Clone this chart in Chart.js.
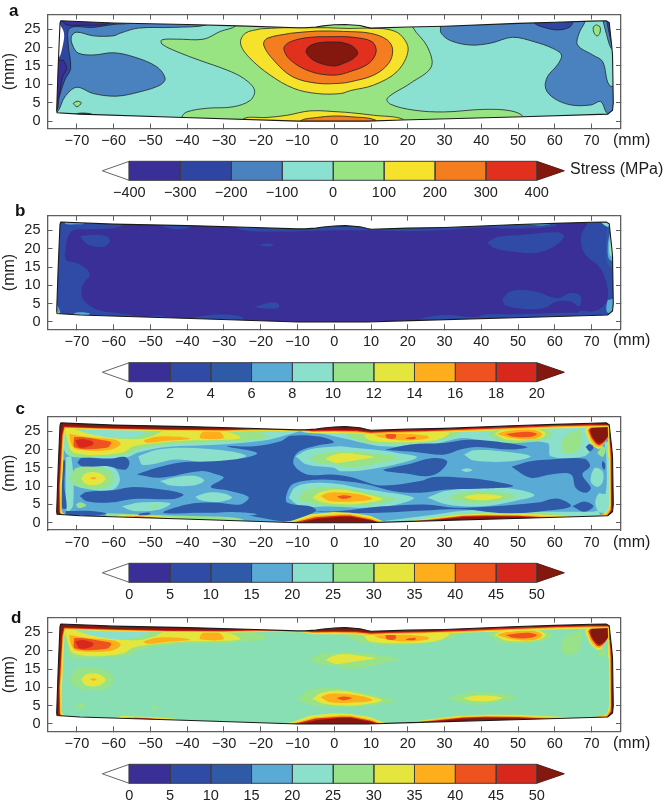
<!DOCTYPE html>
<html><head><meta charset="utf-8">
<script src="https://cdn.jsdelivr.net/npm/chart.js@4"></script>
<style>
html,body{margin:0;padding:0;background:#fff;width:668px;height:803px;overflow:hidden}
canvas{position:absolute}
.t{position:absolute;font-family:"Liberation Sans",Arial,sans-serif;color:#1c1c1c;line-height:1;white-space:nowrap}
.l{font-weight:bold;font-size:17px;color:#111}
.m{font-size:16px}
</style></head><body>
<script>
// ---------- axis ticks and colour-bar levels ----------
const xTicks=[-70,-60,-50,-40,-30,-20,-10,0,10,20,30,40,50,60,70];
const yTicks=[0,5,10,15,20,25];
const levelsA=[-400,-300,-200,-100,0,100,200,300,400];
const levelsB=[0,2,4,6,8,10,12,14,16,18,20];
const levelsC=[0,5,10,15,20,25,30,35,40,45,50];
const coloursA=['#3a2f96','#2e46a2','#4a82c0','#8be1d1','#98e483','#f7e22b','#f47d1f','#e1301e'];
const coloursB=['#3a2f96','#2f4ba6','#2f5aa8','#5aaad6','#8be0cc','#98e28a','#e4e63e','#fdae1a','#ee521f','#d7281b'];
const tipHot='#84180e';
// ---------- specimen outline (mm) ----------
const outline=[-74.4,27.3,-60,26.7,-40,26.3,-26,25.9,-10,25.4,-8,25.4,-5,25.6,-3,25.9,0,26.2,3,26.3,7,26,9,25.5,10,25.3,20,25.6,30,25.8,50,26.6,60,26.9,70,27.2,74,27.3,74.8,26.8,75.2,23,75.5,20.2,75.7,18,75.9,5,75.7,3,74.4,1.9,51.4,1.2,18.5,.3,9,0,-9.8,0,-41,1,-69.2,1.9,-75.4,2.3,-75.5,3,-75.1,14.8,-74.6,26.6];
const full=[-78,-2,78,-2,78,29,-78,29];
// ---------- panel a contours (mm) ----------
const aBlueLeft=[-34.6,28,-34.6,26.2,-43.7,25.5,-53.3,25.3,-58.3,23.9,-60.1,23.2,-65.5,23.2,-70.1,24.2,-71.5,23,-71.2,20.7,-69.6,18.5,-65.5,18,-60.1,18.6,-54.6,17.5,-48.3,14.8,-46,11.6,-47.4,9.8,-52.8,8,-59.2,6.8,-65.5,7.5,-70.1,9.2,-73.3,6.6,-75.4,2.5,-78,2.5,-78,28];
const aBlueSpeck=[-71,1.6,-69,2.2,-66,1.9,-69,1.4];
const aDarkLeft=[-54.6,28,-54.6,26.8,-60.1,26.3,-65.5,25.5,-71.9,25.3,-72.4,21.2,-71.7,14.4,-73.3,11.2,-74.8,6.6,-75.5,3,-78,3,-78,28];
const aIndigoTop=[-74.2,27.4,-70,27.4,-61,26.9,-62.8,26.2,-68.3,26.1,-72.8,26.2];
const aIndigoLeft=[-73.7,16.6,-72.8,14.4,-73.9,12.1,-75.4,5.7,-78,6,-78,16];
const aWhite=[-74.6,26.3,-73.5,23.9,-73.9,20.3,-75.1,17.1,-78,17,-78,26];
const aGreenSpeck=[-71,4.8,-70,5.4,-68.8,5,-70,3.9];
const aBlueRight=[28.9,28,28.9,25.7,29.1,23.9,31.6,21.9,37,20.7,42.5,21.2,48.5,22.8,54.4,21.6,59.4,19.8,61.8,18,60.7,15.3,58,12.1,57.5,8.9,59.8,6.2,64.4,4.4,69.8,4.4,72.5,5.3,74.4,2,78,2,78,9,74.8,9.8,73,16.2,70.3,18,66.2,20.7,66.6,23.9,68.2,27,68.2,28];
const aDarkTopRight=[54.5,28,54.5,26.6,57.1,25.5,60.7,24.8,63.9,25.5,65,27,65,28];
const aBlueEdge=[73.2,28,73.2,27,74.1,23.5,74.8,21,75.7,19.5,78,19.5,78,28];
const aDarkEdge=[74.2,28,74.2,27,74.8,23.9,75.7,21.2,78,21,78,28];
const aGreenSmall=[71.3,26.2,72.3,25.6,72.2,23.8,71.4,23.2,70.6,24.2,70.5,25.6];
const aGreen=[-26.8,28,-26.8,25.9,-31,24.4,-35.5,22.3,-42.8,22.3,-46.9,22.1,-46.9,21,-42.8,18.9,-36.5,16.5,-29.2,13.9,-24.6,11.6,-21.7,8.5,-22.8,5.7,-27.5,3.9,-34.6,3.5,-40.1,2.5,-41.5,1,-41.5,-2,51.4,-2,51.4,1.2,48,2.8,40.7,3.2,29.8,2.5,21.6,3,15.3,4.6,14.4,6.2,20.7,10.3,26.4,14.8,25.3,20.3,21.4,25.5,21.4,28];
const aYellow=[-20.1,25.1,-24.2,23.9,-25.5,21.2,-23.3,17.5,-17.4,12.5,-11,8.9,-4.6,7.5,1.7,7.5,4.4,8.3,10.7,9.8,17.1,13.5,20.1,19.4,18,23.5,14.4,25,8.9,25.3,4,25.2,-2,25.4,-8,25.4,-14,25.4];
const aOrange=[-11.9,23.9,-18.3,22.5,-19.2,20.7,-16.5,16.6,-11.4,12.1,-4.6,10.3,1.7,10.3,4.4,10.7,10.7,12.5,14.8,15.7,15.9,19.4,14.4,22.1,9.8,23.9,2.5,24.4,-4.6,24.5];
const aRed=[1.7,23,-6.5,22.8,-11.9,21.6,-13.7,19.8,-11.9,16.6,-6.5,13.5,-.1,12.5,4.4,13.5,9.4,15.7,11.4,18.9,10.3,21.6,5.3,22.8];
const aDarkRed=[1.7,21.5,-3.7,21.4,-6.9,20.3,-7.6,18.6,-5,16.2,-.1,15,2.5,15.7,5.3,17.1,6.4,18.6,4.8,20.5];
const aBottomYellow=[-24.6,-2,-24.6,.7,-18.3,1,-12.8,1.6,-6.5,2.8,1.7,2.5,4.4,2.3,10.7,1.6,18.7,.5,18.7,-2];
const aBottomOrange=[-9.2,-2,-9.2,.1,-4.6,1,-.1,1.4,4.4,1.2,11.2,.3,11.2,-2];
// ---------- panel b regions (mm) ----------
const bLeft=[-57.4,28,-57.4,26.5,-60,25.6,-66,25.3,-71,25,-72.5,23,-73,20.5,-73,17,-70.1,16.1,-67.5,14.5,-66.5,12.9,-67.8,11,-68.7,9.3,-68.3,6.1,-64.6,3.4,-58,2.3,-54.6,1.5,-54.6,-2,-78,-2,-78,28];
const bBlobLeft=[-69.2,23.4,-66.9,21.1,-62.8,20.5,-61,22,-61.9,23.4,-65.5,23.8];
const bTopLens=[-50,27,-44,25.4,-40,25.6,-38,27];
const bTopStrip=[-29,27,-25,25.1,-15,24.7,-5,24.9,0,25,10,25,20,24.8,30,25.1,40,25.8,48,25.5,60,26.2,61,28];
const bBlobTopRight=[41.6,21.7,44.4,23.2,51.6,23.8,60.7,24.5,62.5,23.4,59.8,20.6,54.4,18.8,48,19.3,43.4,20.2];
const bRight=[68.9,28,68.9,27,67.1,23.4,68,18.8,72.5,14.5,74.4,8.8,73.9,5.2,70.7,2.9,66.6,2.9,66.6,1,78,1,78,28];
const bBlobBottomRight=[45.7,6.1,48,8.4,54.4,8.4,60.7,6.5,64.4,7.9,67.1,7,66.6,4.3,64.4,5.6,60.7,5.6,57.1,3.8,52.5,3.5,46.6,4.5];
const bBottomStrip=[20,-1,24,1,30,1.9,38,1.3,42,2.1,50,2.1,65,2.5,74,1.9,74,-1];
const bLens1=[-20.5,21,-18,21.4,-16.5,21,-18,20.6];
const bLens2=[-22,4,-18,5.2,-15.2,5,-15.2,3.8,-19,3.7];
const bLens3=[-39,1,-33,2,-25,1.3,-25,-1,-39,-1];
const bBottomLeft=[-54,1,-48,1.8,-45,1,-48,.5];
const bEdgeRightBlue=[74.3,28,74,20,74.6,15.5,78,15,78,28];
const bEdgeRightLight=[74.9,24,74.4,21,74.9,17,78,17,78,24];
const bEdgeRightCyan=[75.2,23.5,74.8,21,75.2,18,78,18,78,24];
const bEdgeRightYellow=[75.6,22.5,75.2,20.5,75.6,18.5,78,18.5,78,22.5];
const bCornerTopLeft=[-73.5,28,-73.2,26.8,-70.5,26.7,-68,26.9,-68,28];
const bCornerBottomLeft=[-75.5,5,-74.5,2.5,-75.5,2,-78,2,-78,5];
const bYellowSpot=[-75.4,3,-74.8,2.3,-75.4,1.8,-76,2.4];
const bBottomCyan=[-72,1.5,-70,2.6,-66.5,2.3,-68,1.4];
const bCornerBottomRight=[74.4,6,74,4,74.4,2.5,78,2,78,6.5];
const bCornerTopRight=[72,28,73,26.8,74.5,26,75,27,75,28];
const bTopRightLight=[50,27.5,54,26.5,58,26.5,60,27.5];
// ---------- panel c cold regions (mm) ----------
const cMass=[-53.7,13.2,-48.3,15,-41.9,16.5,-32.8,16.8,-24.6,17.7,-21,19.1,-29.2,20.9,-21.9,20.9,-14.6,22.3,-11.9,23.8,-3.7,23.5,-.1,22,-4.6,21.1,-10.1,19.1,-11,15.9,-7.4,13.2,-1.1,13.2,4.4,12.5,12.5,10.2,23.4,11.4,27,12.5,35.3,12.3,42.5,11.5,48.7,10,38.9,9.3,30.7,9.1,23.4,8.2,16.2,8.6,8.9,10.5,2.5,11.4,-3.7,11.8,-11,10.7,-12.8,8.2,-12.8,5.5,-6.4,4.4,-5,3.2,-11.9,.45,-17.4,.9,-25.5,2.3,-35.5,2.7,-46.5,2.7,-40.1,5,-32.8,5.5,-25.5,5,-23.3,7,-29.2,8.9,-33.6,9.8,-30.1,12.3,-31.9,13.2,-36.5,14.1,-47.4,12.3];
const cBand1=[13.9,20,20.7,21.4,29.8,21.8,36.2,22.7,43.4,22.3,52.5,20.7,48,20,38.9,20.7,34.4,20,29.8,18.6,22.5,19.3,15.3,19.8];
const cBand2=[13.2,14.5,19.8,15.9,27,17.7,30.7,16.8,28.9,14.1,25.3,12.7,18.9,13.5,14.4,14];
const cBand4=[-6,3,1.6,3.2,12.5,4.4,24.4,5,33.4,4.1,42.5,4.4,55.3,5.5,60.7,6.6,64.4,4.5,57.1,3.2,47.1,2.5,35.3,3.6,26.2,3.4,12.5,2.7,2.5,2.7];
const cLobeRight=[48.2,15.3,53.4,16.8,58.9,17.3,68,17.5,69.6,15.5,67.5,13.2,69.8,9.5,68.4,8.2,65.7,9.5,64.4,13.2,58.9,13.2,53.4,12.3];
const cSmallRight=[64.8,4.5,68,5.8,70.5,4.5,68,3];
const cDot1=[68.4,20.7,69.5,21.5,70.5,20.5,69.5,19.5];
const cDot2=[73,17,73.7,16,73.5,14.5,72.8,15.5];
const cUpperBand=[-69.9,16.4,-68.7,17.7,-61,17.5,-56.9,18,-55.7,16.4,-56.9,14.5,-61.9,15.5,-68.3,15.3];
const cLowerBand=[-69.2,7.3,-67.4,8.4,-60.1,8.9,-54.6,9.8,-45.5,8.9,-41,7.7,-43.7,6.5,-54.6,6.5,-60.9,5.5,-67.4,5.9];
const cBottomLeft=[-73,3.2,-66,3.2,-62,2.5,-65,1.9,-73,2];
const cBottomDot=[-53.3,2.4,-50.5,2.8,-50,2.3,-53,1.9];
const cLeftStrip=[-73.8,17,-73.2,17,-73.4,10,-72.8,4,-74,4,-74.2,10];
// ---------- panel c mid-level regions (mm) ----------
const cTopLeftHalo=[-74,28,-74,27,-73,19,-68,18,-57,17.8,-53,19.3,-45.5,20.7,-31.9,21.3,-19.2,22.5,-13.7,23.8,-9,25.5,-9,28];
const cTopRightHalo=[-9,28,-9,25,-3,24.3,3,23,13.4,20.9,26.2,21.4,35.3,23.2,42.5,21.8,58,21.8,58.9,18.2,68,18.2,70,21,69,28];
const cLensLow=[-35.4,2.3,-28.3,2.9,-21,2.3,-28.3,1.6];
const cLens1=[-47.4,11.4,-42.8,12.5,-37.4,12.7,-35.4,11.5,-38.3,10.2,-44.6,10.2];
const cLens2=[-37.8,7.1,-34.6,8.2,-30.1,8,-27.8,6.8,-31.9,5.6,-36.5,6.2];
const cLens3=[-53.3,18.2,-48,20,-40,20.5,-28,19.5,-24,18.2,-33,16.4,-43,17.3,-52,15.8];
const cLens4=[-57.8,4.4,-52.8,5.5,-44.6,5.3,-47.4,3.6,-54.6,3.2];
const cHaloLeft=[-72.4,12,-68.3,15.5,-60.1,15,-58.3,11.8,-60.1,9.1,-66.5,9.1,-71.5,10.5];
const cStripLeft=[-73,18,-71.5,18,-71,5,-72.5,3,-73,5];
const cHaloU=[-10.5,18.2,-6.9,20,1.7,20.9,4.4,20.6,10.7,20,17.1,19.1,22.5,18,18.5,16.4,8.9,14.5,1.6,14.1,-.1,15,-7.4,15.9];
const cHaloL=[-12.4,6.8,-10.5,9.8,-4.6,10.9,1.7,10.5,5.3,9.8,12.5,8.6,21.6,6.8,17.1,5,8,4.1,-1.1,4.5,-9.2,4.5];
const cHaloR=[25.3,6.8,29.8,8.6,39.8,9.8,49.8,9.1,54.5,7.5,48.9,5.9,39.8,4.5,30.7,5];
const cLensMid=[35.3,18.6,38,19.8,46.2,19.5,53.4,18.2,48,16.8,38,17];
const cLensTiny=[34.4,14.4,36,14.9,37.6,14.4,36,13.9];
const cLobeA=[70,13.5,71,15,73,14,73,11,71.5,9.8,69.8,11.2];
const cEdgeB=[73.5,22,75,22,75,3,72,3,71,5.5,72,8,73.8,8,74,18];
const cBottomCyan=[14,.5,27,2.2,38,3.5,55,3,70,3,72,3,72,-1,14,-1];
const cBottomGreen=[26,1.4,38,2.7,50,2.7,62,2.2,62,-1,26,-1];
const cBottomLeftGreen=[-62,2.6,-50,2.2,-38,1.8,-25,1,-25,-1,-62,-1];
// ---------- panels c and d hot regions (mm) ----------
const hGreenTopLeft=[-74,27,-72.8,21.1,-71.7,18.2,-63.7,18.1,-56.5,18.6,-52.8,20.2,-45.5,21.4,-34.6,22,-24.6,22.4,-18.3,23.4,-19.2,24.5,-27.3,25.5,-43.7,25.8,-50,25.5,-60,26,-70,26.5];
const hCyanPatch=[-69.6,25.5,-64.6,23.6,-54.6,23.4,-50.5,25.2,-59.2,25.6];
const hYellowTopLeft=[-73.3,26.1,-72.4,22,-71.5,19.7,-69.2,18.8,-63.7,18.5,-57.4,19.3,-54.6,20.9,-48.3,21.8,-40.1,22.5,-32.8,22.6,-25.5,23.1,-28.3,24.7,-36.5,25.4,-45.5,25.4,-49.2,23.8,-52.8,22.9,-56.5,22.9,-60.1,23.1,-66.5,24.3,-70.5,25.6];
const hOrangeBlob=[-72.1,24.3,-71.5,21.5,-70.1,20,-61,19.9,-58.1,21.5,-59.6,22.7,-66.5,23.4];
const hOrangeP1=[-51.9,22.5,-48.3,23.5,-41.9,23.5,-39.2,22.9,-45.5,22.4,-51,21.9];
const hOrangeP2=[-36.5,24,-35.5,25,-31.5,25,-30.1,23.1,-36.5,23.1];
const hRedBlob=[-70.8,23.4,-70.5,20.6,-61.9,20.5,-60.7,22,-63.7,22.7,-68.3,23.4];
const hDarkBlob=[-70.5,22.5,-69.2,20.6,-66,21.1,-65.5,22,-68.3,22.9];
const hGreenSpot=[-72,12,-70,15,-62,14.7,-60,12,-62,9.6,-68,9.4,-71,10.5];
const hYellowSpot=[-68.9,12.1,-67.4,13.6,-64,13.6,-62.2,12.1,-64,10.5,-67.4,10.5];
const hOrangeDot=[-66.5,12.2,-65.5,12.5,-64.6,12.2,-65.5,11.8];
const hGreenU=[-6.9,17.7,-3.7,19.1,1.7,19.5,6.2,19.5,13.4,18.6,17.5,17.7,12.5,16.4,4.4,15,-.1,15.9,-4.6,16.4];
const hYellowU=[-2.4,17.5,-.1,18.6,2.5,19.1,7.1,18.6,11,17.9,7.1,17.3,1.6,16.4,-.1,16.5];
const hGreenL=[-10.1,6.4,-7.4,9.1,-.1,9.8,6.2,8.9,13.4,7.3,16.6,6.4,12.5,5.3,4.4,4.5,-3.7,4.7];
const hYellowL=[-6,6.8,-3.7,8.4,1.6,9.1,7.1,8.2,13,6.5,9.8,5.6,4.4,5,-2.8,5.5];
const hOrangeL=[-3.7,7.3,-1.5,8.2,3.4,8.2,8,7.5,10.3,6.5,6.2,5.9,-1.1,5.9];
const hRedL=[.7,7.1,2.5,7.5,4.8,7.1,2.5,6.5];
const hGreenR=[30.7,6.8,35.3,8.4,42.5,8.6,49.4,7.3,44.4,5.9,37.1,5.3];
const hYellowR=[35.1,7,38,7.7,42.5,7.7,45.7,7.1,41.6,6.2,37.1,6.4];
const hGreenT1=[3,24,8,22,18.9,21.5,29.8,22.9,34.4,24.7,30,25.6,10,25.6];
const hYellowT1=[8,23.8,10.3,24.7,20,25.4,30.3,25.2,31.2,24.3,27.1,22.5,17.1,22,9.8,22.5];
const hOrangeT1=[10.3,24.3,16.2,24.5,25.3,23.8,25.7,23.1,19.4,22.5,12.5,23.4];
const hRedT1a=[13.9,24.3,16.6,24.3,16.6,23.1,14.4,23.1];
const hRedT1b=[19.6,23.2,22,23.5,22.1,23,19.6,22.9];
const hGreenT2=[41.6,24.3,44.4,25.6,55.3,25.9,59.4,24.3,56.2,22.5,46.2,22];
const hYellowT2=[43.6,24.3,46.2,25.5,55.3,25.5,57.5,24.3,55.3,22.9,47.1,22.7];
const hOrangeT2=[44.4,24.3,46.6,25,53.4,25.5,56.6,24.3,54.4,22.9,48,23.2];
const hRedT2=[46.6,24.3,52.5,24.9,55.1,24.3,53.4,23.5,48.9,23.5];
const hGreenPatch=[61.6,20.2,62.5,23.4,67.1,25.2,66.6,20.2,63.4,18.8];
const hGreenEdge=[71.5,19,73,21,73.8,20,73,18];
const hGreenSpeck1=[-70.3,5,-69,5.6,-67.5,4.8,-69.5,4];
const hGreenSpeck2=[-50,4.4,-49,5,-48,4.4,-49,3.8];
const hYellowCorner=[68.2,25.3,69.8,27,74.5,27,73.7,22.8,72.1,20.2,70,21.5,69,23.2];
const hOrangeCorner=[68.8,25.3,70.2,26.9,74.7,27,74.2,23.2,72.1,20.7,70,22.3];
const hRedCorner=[69.2,25.3,70.5,26.7,74.8,27.3,74.4,23.5,72.1,21.2,70.2,22.9];
const hDarkCorner=[69.6,25.2,70.7,26.5,74.8,27.3,74.5,23.8,72.1,21.7,70.3,23.4];
const rimYellow=[-72.9,25.7,-60,25.3,-45,25,-30,24.9,-20,25.1,-9,25,-6,24.5,0,24.5,6,24.4,10,24,15,24.3,25,24.5,35,24.9,50,25.4,60,25.8,69.5,26,74.4,26.2,74.5,23,74.7,18,74.8,5,74.6,4,74.2,3,72,1.6,66,1.4,63,1.9,50,2.5,41,2.5,33.4,2.2,26.2,1.3,18,.1,13.4,.3,9.8,1.9,4.4,2.7,-.1,2.9,-6.5,2.3,-11.5,.5,-16,-.2,-30,.3,-41.5,.7,-43,1.4,-50,1.9,-58,2.2,-60,1.5,-72,1.7,-73.9,2.7,-74.2,3.7,-74.1,10,-73.8,15,-73.4,24];
const rimOrange=[-73.2,25.9,-60,25.5,-45,25.2,-30,25.1,-20,25.3,-9,25.2,-6,24.8,0,24.8,6,24.7,10,24.3,15,24.5,25,24.8,35,25.1,50,25.7,60,26.1,69.5,26.3,74.6,26.4,74.7,23,75,18,75.1,5,74.9,3.7,74,2.4,66,1.3,62,1.6,50,2.1,41,2.2,35,2,28,1.3,20,.1,13,.1,10,1.2,4.4,2.3,1.7,2.3,-5.5,1.8,-10,.5,-14,-.2,-30,0,-42,.6,-44,1.2,-50,1.6,-56,1.9,-58,1.4,-73,1.7,-74.3,2.6,-74.4,3.4,-74.5,10,-74.2,15,-73.7,24];
const rimRed=[-73.4,26.1,-60,25.7,-45,25.4,-30,25.3,-20,25.5,-9,25.5,-6,25,0,25.1,6,25,10,24.6,15,24.8,25,25,35,25.4,50,26,60,26.4,69.5,26.6,74.8,26.6,74.9,23,75.2,18,75.3,5,75.2,3.5,74.3,2,62,1.2,50,1.9,41,2,35,1.8,28,1,20,.2,12.5,0,10,.9,4.4,2,1.7,2,-5,1.5,-9.5,.4,-13,-.3,-30,0,-45,.8,-50,1.5,-54,1.7,-56,1.2,-74,1.7,-74.6,2.8,-74.7,10,-74.4,15,-73.9,24];
const rimDark=[-73.6,26.4,-60,25.9,-45,25.6,-30,25.5,-20,25.7,-9,25.6,-6,25.3,0,25.4,6,25.3,10,24.9,15,25.1,25,25.3,35,25.7,50,26.3,60,26.7,69.5,26.9,75,26.8,75.1,23,75.4,18,75.5,5,75.4,3.3,74.5,2.3,74,1.8,60,1.1,50,1.6,41,1.7,35,1.5,28,.8,20,0,12,0,10.5,.5,4.4,1.6,1.7,1.6,-4.6,1.1,-8.7,.2,-12,-.5,-40,.5,-60,1.2,-74,1.8,-74.9,3,-74.9,10,-74.6,15,-74.1,24];

// ---------- layer lists (painted first to last) ----------
const C=coloursB, lightBlue=C[3], cyan=C[4], green=C[5], yellow=C[6], orange=C[7], redOrange=C[8], red=C[9], indigo=C[0], blue=C[1], blue2=C[2];
const A=coloursA;
const layersA=[[full,A[3]],[aBlueLeft,A[2]],[aBlueRight,A[2]],[aBlueEdge,A[2]],[aDarkLeft,A[1]],[aDarkTopRight,A[1]],[aDarkEdge,A[1]],[aBlueSpeck,A[1]],[aIndigoTop,A[0]],[aIndigoLeft,A[0]],[aWhite,'#ffffff'],[aGreenSpeck,A[4]],[aGreenSmall,A[4]],[aGreen,A[4]],[aYellow,A[5]],[aOrange,A[6]],[aRed,A[7]],[aDarkRed,tipHot],[aBottomYellow,A[5]],[aBottomOrange,A[6]]];
const layersB=[[full,indigo],[bLeft,blue],[bBlobLeft,blue],[bTopLens,blue],[bTopStrip,blue],[bBlobTopRight,blue],[bRight,blue],[bBlobBottomRight,blue],[bBottomStrip,blue],[bLens1,blue],[bLens2,blue],[bLens3,blue],[bBottomLeft,blue],[bEdgeRightBlue,blue2],[bEdgeRightLight,lightBlue],[bEdgeRightCyan,cyan],[bEdgeRightYellow,yellow],[bCornerTopLeft,lightBlue],[bCornerBottomLeft,lightBlue],[bBottomCyan,lightBlue],[bYellowSpot,yellow],[bCornerBottomRight,lightBlue],[bCornerTopRight,cyan],[bTopRightLight,lightBlue]];
const hot=[[hGreenTopLeft,green],[hCyanPatch,cyan],[hYellowTopLeft,yellow],[hOrangeBlob,orange],[hOrangeP1,orange],[hOrangeP2,orange],[hRedBlob,redOrange],[hDarkBlob,red],[hGreenSpot,green],[hYellowSpot,yellow],[hOrangeDot,orange],[hGreenU,green],[hYellowU,yellow],[hGreenL,green],[hYellowL,yellow],[hOrangeL,orange],[hRedL,redOrange],[hGreenR,green],[hYellowR,yellow],[hGreenT1,green],[hYellowT1,yellow],[hOrangeT1,orange],[hRedT1a,redOrange],[hRedT1b,redOrange],[hGreenT2,green],[hYellowT2,yellow],[hOrangeT2,orange],[hRedT2,redOrange],[hGreenPatch,green],[hGreenEdge,green],[hGreenSpeck1,green],[hGreenSpeck2,green],[hYellowCorner,yellow],[hOrangeCorner,orange],[hRedCorner,red],[hDarkCorner,tipHot]];
const rims=[[rimYellow,yellow],[rimOrange,orange],[rimRed,red],[rimDark,tipHot]];
const layersC=[[full,lightBlue],[cTopLeftHalo,cyan],[cTopRightHalo,cyan],[cBottomCyan,cyan],[cBottomGreen,green],[cBottomLeftGreen,green],[cLens1,cyan],[cLens2,cyan],[cLens3,cyan],[cLens4,cyan],[cHaloLeft,cyan],[cStripLeft,cyan],[cHaloU,cyan],[cHaloL,cyan],[cHaloR,cyan],[cLensMid,cyan],[cLensTiny,cyan],[cLobeA,cyan],[cEdgeB,cyan],[cMass,blue2],[cBand1,blue2],[cBand2,blue2],[cBand4,blue2],[cLobeRight,blue2],[cSmallRight,blue2],[cDot1,blue2],[cDot2,blue2],[cUpperBand,blue2],[cLowerBand,blue2],[cBottomLeft,blue2],[cBottomDot,blue2],[cLeftStrip,blue2],[cLensLow,lightBlue]].concat(hot);
const layersD=[[full,'#87dfb3']].concat(hot);

// ---------- helpers ----------
const pts=a=>{const r=[];for(let i=0;i<a.length;i+=2)r.push({x:a[i],y:a[i+1]});return r;};
const closed=a=>{const p=pts(a);p.push(p[0]);return p;};
const rect=[{x:-78,y:29},{x:78,y:29},{x:78,y:-2},{x:-78,y:-2},{x:-78,y:29}];
const ring=a=>{const p=pts(a);return rect.concat([p[0]],p.slice(1).reverse(),[p[0]],[rect[0]]);};
const fmt=v=>String(v).replace('-','\u2212');
const FONT='"Liberation Sans",Arial,sans-serif';
const poly=(data,fillC,o={})=>Object.assign({data,backgroundColor:fillC,borderColor:o.line||fillC,borderWidth:o.w||0,fill:'shape',showLine:true,pointRadius:0,tension:o.t===undefined?0.35:o.t},{});
function addCanvas(top,h){const c=document.createElement('canvas');c.width=668;c.height=h;c.style.cssText=`left:0;top:${top}px;width:668px;height:${h}px`;document.body.appendChild(c);return c;}
function frameAxis(extra){return Object.assign({type:'linear',border:{display:true,color:'#5f5f5f',width:1.3,z:2},grid:{drawOnChartArea:false,drawTicks:true,tickLength:-5,color:'#5f5f5f',lineWidth:1,z:2}},extra);}
const noPad=s=>{s.paddingTop=0;s.paddingBottom=0;s.paddingLeft=0;s.paddingRight=0;};
function panel(frameTop,frameBottom,layers,opt){
  const canvasTop=Math.floor(frameTop)-3,pad=frameTop-canvasTop,areaH=frameBottom-frameTop,xH=28;
  const h=Math.ceil(pad+areaH+xH),padB=h-(pad+areaH+xH);
  const ds=layers.map(([a,col])=>poly(a===full?pts(a):closed(a),col,(opt.lines&&a!==full&&col!=='#ffffff')?{line:'#20242a',w:.8}:{}));
  (opt.rings||[]).forEach(([a,col])=>ds.push(poly(ring(a),col,{t:0})));
  ds.push(poly(ring(outline),'#ffffff',{t:0}));
  ds.push(Object.assign(poly(closed(outline),'#000',{line:'#1a1a1a',w:1.1,t:0}),{fill:false}));
  const tickFont={family:FONT,size:14.5};
  new Chart(addCanvas(canvasTop,h),{type:'scatter',data:{datasets:ds.map((d,i)=>Object.assign(d,{order:ds.length-i}))},options:{
    responsive:false,animation:false,devicePixelRatio:1,events:[],
    layout:{padding:{left:0,right:47,top:pad,bottom:padB}},
    plugins:{legend:{display:false},tooltip:{enabled:false},title:{display:false}},
    scales:{
      x:frameAxis({position:'bottom',min:-78,max:78,afterBuildTicks:s=>{s.ticks=xTicks.map(value=>({value}));},afterFit:s=>{s.height=xH;noPad(s);},
        ticks:{font:tickFont,color:'#222',padding:9,autoSkip:false,maxRotation:0,callback:fmt}}),
      x2:frameAxis({position:'top',min:-78,max:78,afterBuildTicks:s=>{s.ticks=xTicks.map(value=>({value}));},afterFit:s=>{s.height=.01;noPad(s);},ticks:{display:false,autoSkip:false}}),
      y:frameAxis({position:'left',min:-2,max:29,afterBuildTicks:s=>{s.ticks=yTicks.map(value=>({value}));},afterFit:s=>{s.width=47.5;noPad(s);},
        title:{display:true,text:'(mm)',font:{family:FONT,size:16},color:'#222',padding:0},
        ticks:{font:tickFont,color:'#222',padding:12,autoSkip:false,callback:fmt}}),
      y2:frameAxis({position:'right',min:-2,max:29,afterBuildTicks:s=>{s.ticks=yTicks.map(value=>({value}));},afterFit:s=>{s.width=.01;noPad(s);},ticks:{display:false,autoSkip:false}})
    }}});
}
function colourBar(barTop,levels,colours,pxPerBin){
  const bin=levels[1]-levels[0],lo=levels[0],hi=levels[levels.length-1],k=pxPerBin/bin;
  const cTop=Math.floor(barTop-1.9),pad=barTop-1.9-cTop,h=Math.ceil(pad+22.8+24),padB=h-(pad+22.8+24);
  const xMin=lo-(129.3-100)/k,xMax=hi+(567-536.7)/k,tipL=lo-27/k,tipR=hi+27.6/k;
  const edge={t:0,line:'#3c3c44',w:1};
  const ds=colours.map((col,i)=>poly([{x:levels[i],y:0},{x:levels[i+1],y:0},{x:levels[i+1],y:1},{x:levels[i],y:1},{x:levels[i],y:0}],col,edge));
  ds.push(poly([{x:lo,y:0},{x:lo,y:1},{x:tipL,y:.5},{x:lo,y:0}],'#ffffff',{t:0,line:'#666',w:1}));
  ds.push(poly([{x:hi,y:0},{x:hi,y:1},{x:tipR,y:.5},{x:hi,y:0}],tipHot,{t:0,line:'#5a1a12',w:1}));
  new Chart(addCanvas(cTop,h),{type:'scatter',data:{datasets:ds},options:{
    responsive:false,animation:false,devicePixelRatio:1,events:[],
    layout:{padding:{left:100,right:101,top:pad,bottom:padB}},
    plugins:{legend:{display:false},tooltip:{enabled:false}},
    scales:{
      x:{type:'linear',position:'bottom',min:xMin,max:xMax,afterBuildTicks:s=>{s.ticks=levels.map(value=>({value}));},afterFit:s=>{s.height=24;noPad(s);},
        border:{display:false},grid:{display:false,drawTicks:false},
        ticks:{font:{family:FONT,size:14.5},color:'#222',padding:2,autoSkip:false,maxRotation:0,callback:fmt}},
      y:{type:'linear',display:false,min:-.1,max:1.1}
    }}});
}
panel(14.5,128.5,layersA,{lines:true});
panel(215.7,329.3,layersB,{});
panel(416.7,530,layersC,{rings:rims});
panel(617.7,731.3,layersD,{rings:rims});
colourBar(161.3,levelsA,coloursA,50.96);
colourBar(362.7,levelsB,coloursB,40.74);
colourBar(563.3,levelsC,coloursB,40.74);
colourBar(764.3,levelsC,coloursB,40.74);
function label(text,x,y,cls){const s=document.createElement('div');s.className='t '+cls;s.textContent=text;s.style.left=x+'px';s.style.top=y+'px';document.body.appendChild(s);}
label('a',9,2,'l');label('b',15,202,'l');label('c',15.5,400,'l');label('d',11,609,'l');
label('(mm)',613,131.5,'m');label('(mm)',613,332,'m');label('(mm)',613,533.7,'m');label('(mm)',613,734.7,'m');
label('Stress (MPa)',570,161,'m');
</script>
</body></html>
